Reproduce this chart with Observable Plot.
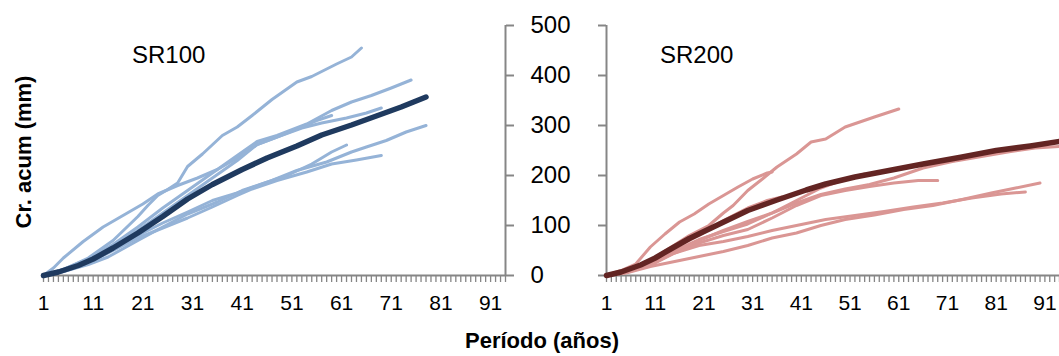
<!DOCTYPE html>
<html><head><meta charset="utf-8">
<script src="https://cdn.jsdelivr.net/npm/d3@7"></script>
<script src="https://cdn.jsdelivr.net/npm/@observablehq/plot@0.6"></script>
<style>
body{margin:0;background:#fff;}
#wrap{position:relative;width:1059px;height:356px;overflow:hidden;font-family:"Liberation Sans",Arial,sans-serif;background:#fff;}
#wrap svg{position:absolute;top:0;max-width:none;}
.panel{position:absolute;top:40px;font-size:24px;line-height:30px;color:#000;white-space:nowrap;}
.ytitle{position:absolute;left:24px;top:152px;transform:translate(-50%,-50%) rotate(-90deg);font-weight:bold;font-size:22px;white-space:nowrap;color:#000;}
.xtitle{position:absolute;left:542px;top:329px;transform:translateX(-50%);font-weight:bold;font-size:22px;line-height:24px;white-space:nowrap;color:#000;}
</style>
</head><body>
<div id="wrap">
  <div class="panel" style="left:132px">SR100</div>
  <div class="panel" style="left:660px">SR200</div>
  <div class="ytitle">Cr. acum (mm)</div>
  <div class="xtitle">Período (años)</div>
</div>
<script>
// ---- data (year, accumulated growth mm) ----
const xTickLabels = [1, 11, 21, 31, 41, 51, 61, 71, 81, 91];
const yTickLabels = [0, 100, 200, 300, 400, 500];
const panelNames = ["SR100", "SR200"];

// SR100 individual series
const sr100_a = [[1,0],[5,12],[10,35],[15,70],[20,118],[22,140],[24,160],[26,172],[28,185],[30,218],[33,243],[37,280],[40,297],[43,320],[47,352],[52,387],[55,398],[60,423],[63,437],[65,455]];
const sr100_b = [[1,0],[5,12],[10,33],[15,62],[20,97],[25,135],[30,170],[35,205],[40,240],[44,268],[48,280],[54,303],[59,330],[63,347],[67,360],[71,375],[75,391]];
const sr100_d = [[1,0],[3,15],[5,35],[9,68],[13,97],[17,120],[21,143],[24,163],[28,180],[32,195],[36,212],[40,235],[44,262],[48,277],[53,295],[57,305],[62,315],[66,325],[69,335]];
const sr100_e = [[1,0],[5,10],[10,30],[15,58],[20,90],[25,125],[30,160],[35,195],[40,230],[44,262],[48,277],[52,293],[56,310],[59,320]];
const sr100_f = [[1,0],[5,8],[10,22],[14,37],[20,70],[25,97],[30,123],[36,147],[41,170],[47,190],[52,210],[58,227],[63,247],[66,257],[70,270],[74,287],[78,300]];
const sr100_g = [[1,0],[5,10],[10,28],[15,55],[20,80],[25,105],[30,127],[35,150],[40,165],[45,183],[50,200],[55,223],[59,247],[62,261]];
const sr100_h = [[1,0],[5,8],[10,25],[15,50],[20,75],[25,95],[30,115],[35,137],[40,160],[43,173],[48,190],[54,207],[59,223],[64,231],[69,240]];
const sr100_mean = [[1,0],[4,7],[8,20],[11,33],[15,55],[20,85],[25,118],[30,153],[35,182],[41,212],[46,235],[52,259],[57,281],[63,301],[68,319],[73,337],[78,357]];

// SR200 individual series
const sr200_p1 = [[1,0],[5,8],[10,30],[14,55],[18,80],[22,100],[25,125],[27,140],[30,170],[33,193],[36,217],[40,243],[43,267],[46,273],[50,297],[56,317],[61,333]];
const sr200_p2 = [[1,0],[4,10],[7,23],[10,57],[13,83],[16,107],[19,123],[22,143],[25,160],[28,177],[31,193],[34,205],[35,207]];
const sr200_p3 = [[1,0],[5,8],[10,28],[15,55],[20,80],[25,110],[30,135],[34,150],[37,157]];
const sr200_p4 = [[1,0],[5,7],[10,25],[15,50],[20,72],[25,88],[30,103],[35,125],[40,150],[45,175],[50,193],[54,203]];
const sr200_p5 = [[1,0],[5,6],[10,22],[15,45],[20,65],[25,80],[30,92],[35,115],[40,140],[45,160],[50,170],[55,178],[60,185],[65,190],[69,190]];
const sr200_p6 = [[1,0],[5,7],[10,25],[15,48],[20,70],[25,90],[30,108],[35,125],[40,145],[45,162],[50,173],[55,182],[60,195],[66,215],[72,228],[78,238],[84,248],[89,255],[94,258]];
const sr200_p7 = [[1,0],[5,5],[10,18],[15,28],[20,38],[25,48],[30,60],[35,75],[40,85],[45,100],[50,112],[56,121],[62,132],[68,140],[74,152],[80,165],[85,175],[90,185]];
const sr200_p8 = [[1,0],[5,6],[10,20],[15,45],[20,60],[25,68],[30,78],[35,90],[40,100],[46,112],[52,120],[58,128],[64,137],[70,145],[76,155],[82,163],[87,167]];
const sr200_mean = [[1,0],[4,7],[8,21],[11,35],[14,52],[18,74],[24,102],[30,130],[36,151],[42,171],[46,183],[52,197],[59,210],[66,223],[74,237],[81,250],[88,259],[94,268]];

const sr100Light = [sr100_a, sr100_b, sr100_d, sr100_e, sr100_f, sr100_g, sr100_h];
const sr200Light = [sr200_p1, sr200_p2, sr200_p3, sr200_p4, sr200_p5, sr200_p6, sr200_p7, sr200_p8];

const axisGray = "#868686";
const fontFam = "'Liberation Sans', Arial, sans-serif";
const years = d3.range(1, 95);

function lines(series, color, w) {
  return series.map(s => Plot.line(s, {x: d => d[0], y: d => d[1], stroke: color, strokeWidth: w}));
}

function panel({light, mean, lightColor, meanColor, side}) {
  const isLeft = side === "left";
  const width = 600;
  const marginLeft = isLeft ? 43 : 106;
  const marginRight = isLeft ? 95 : 41;
  return Plot.plot({
    width, height: 300,
    marginLeft, marginRight, marginTop: 25, marginBottom: 25,
    x: {domain: [1, 94], axis: null},
    y: {domain: [0, 500], axis: null},
    style: {fontFamily: fontFam, fontSize: "21px", color: "#000", background: "transparent", overflow: "visible"},
    marks: [
      Plot.axisX(years, {tickSize: 7, stroke: axisGray, strokeWidth: 1.3, tickFormat: () => ""}),
      Plot.axisX(xTickLabels, {tickSize: 0, tickPadding: 20, fontSize: 21, fill: "#000"}),
      isLeft
        ? Plot.axisY(yTickLabels, {anchor: "right", tickSize: 8, tickPadding: 17, fontSize: 24, stroke: axisGray, strokeWidth: 2, fill: "#000", textAnchor: "start"})
        : Plot.axisY(yTickLabels, {anchor: "left", tickSize: 8, stroke: axisGray, strokeWidth: 2, tickFormat: () => ""}),
      Plot.ruleX([isLeft ? 94 : 1], {y1: 0, y2: 500, stroke: axisGray, strokeWidth: 2}),
      Plot.ruleY([0], {stroke: axisGray, strokeWidth: 2}),
      ...lines(light, lightColor, 3),
      ...lines([mean], meanColor, 5.5)
    ]
  });
}

const wrap = document.getElementById("wrap");
const left = panel({light: sr100Light, mean: sr100_mean, lightColor: "#95b3d7", meanColor: "#1f3a5f", side: "left"});
left.style.left = "0px";
const right = panel({light: sr200Light, mean: sr200_mean, lightColor: "#da9694", meanColor: "#632523", side: "right"});
right.style.left = "500px";
wrap.insertBefore(right, wrap.firstChild);
wrap.insertBefore(left, wrap.firstChild);
</script>
</body></html>
